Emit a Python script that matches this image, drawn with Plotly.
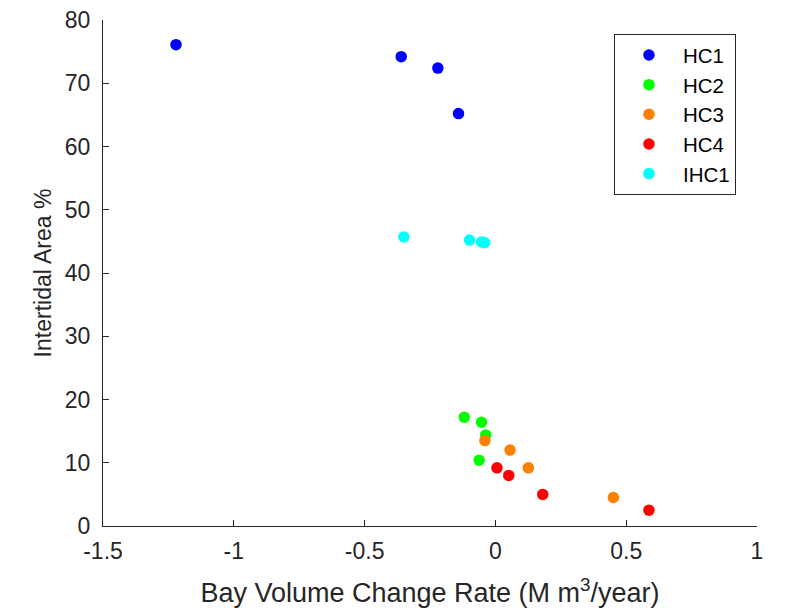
import plotly.graph_objects as go

# Data
hc1_x = [-1.221, -0.360, -0.220, -0.141]
hc1_y = [76.1, 74.2, 72.4, 65.2]
hc2_x = [-0.119, -0.053, -0.037, -0.062]
hc2_y = [17.2, 16.4, 14.4, 10.4]
hc3_x = [-0.040, 0.056, 0.126, 0.451]
hc3_y = [13.5, 12.0, 9.2, 4.5]
hc4_x = [0.006, 0.051, 0.181, 0.587]
hc4_y = [9.2, 8.0, 5.0, 2.5]
ihc1_x = [-0.350, -0.099, -0.053, -0.041]
ihc1_y = [45.7, 45.2, 44.9, 44.8]

series_names = ["HC1", "HC2", "HC3", "HC4", "IHC1"]
series_colors = ["#0000FF", "#00FF00", "#FF8000", "#FF0000", "#00FFFF"]

x_tick_vals = [-1.5, -1, -0.5, 0, 0.5, 1]
x_tick_text = ["-1.5", "-1", "-0.5", "0", "0.5", "1"]
y_tick_vals = [0, 10, 20, 30, 40, 50, 60, 70, 80]

xs = [hc1_x, hc2_x, hc3_x, hc4_x, ihc1_x]
ys = [hc1_y, hc2_y, hc3_y, hc4_y, ihc1_y]

fig = go.Figure()
for name, color, x, y in zip(series_names, series_colors, xs, ys):
    fig.add_trace(go.Scatter(
        x=x, y=y, mode="markers", name=name,
        marker=dict(color=color, size=11.5, line=dict(width=0)),
    ))

axis_color = "#262626"
font_family = "Liberation Sans, Arial, sans-serif"

fig.update_layout(
    width=787, height=600,
    margin=dict(l=95, r=38, t=12, b=82, autoexpand=False),
    paper_bgcolor="white", plot_bgcolor="white",
    font=dict(family=font_family, size=23, color=axis_color),
    showlegend=True,
    legend=dict(
        x=0.7813, y=0.972, xanchor="left", yanchor="top",
        bordercolor=axis_color, borderwidth=1, bgcolor="white",
        font=dict(size=20.5, color="#000000"),
        itemwidth=58,
    ),
    xaxis=dict(
        range=[-1.5, 1], tickvals=x_tick_vals, ticktext=x_tick_text,
        showline=True, linecolor=axis_color, linewidth=1,
        ticks="inside", ticklen=6, tickcolor=axis_color,
        showgrid=False, zeroline=False, mirror=False, automargin=False,
        tickfont=dict(size=23), ticklabelstandoff=4, ticklabeloverflow="allow",
        title=dict(text="Bay Volume Change Rate (M m<sup>3</sup>/year)",
                   font=dict(size=27), standoff=22),
    ),
    yaxis=dict(
        range=[0, 80], tickvals=y_tick_vals,
        showline=True, linecolor=axis_color, linewidth=1,
        ticks="inside", ticklen=6, tickcolor=axis_color,
        showgrid=False, zeroline=False, mirror=False, automargin=False,
        tickfont=dict(size=23), ticklabelstandoff=7, ticklabeloverflow="allow",
        title=dict(text="Intertidal Area %", font=dict(size=23), standoff=6),
    ),
)

fig.write_html("out.html")
